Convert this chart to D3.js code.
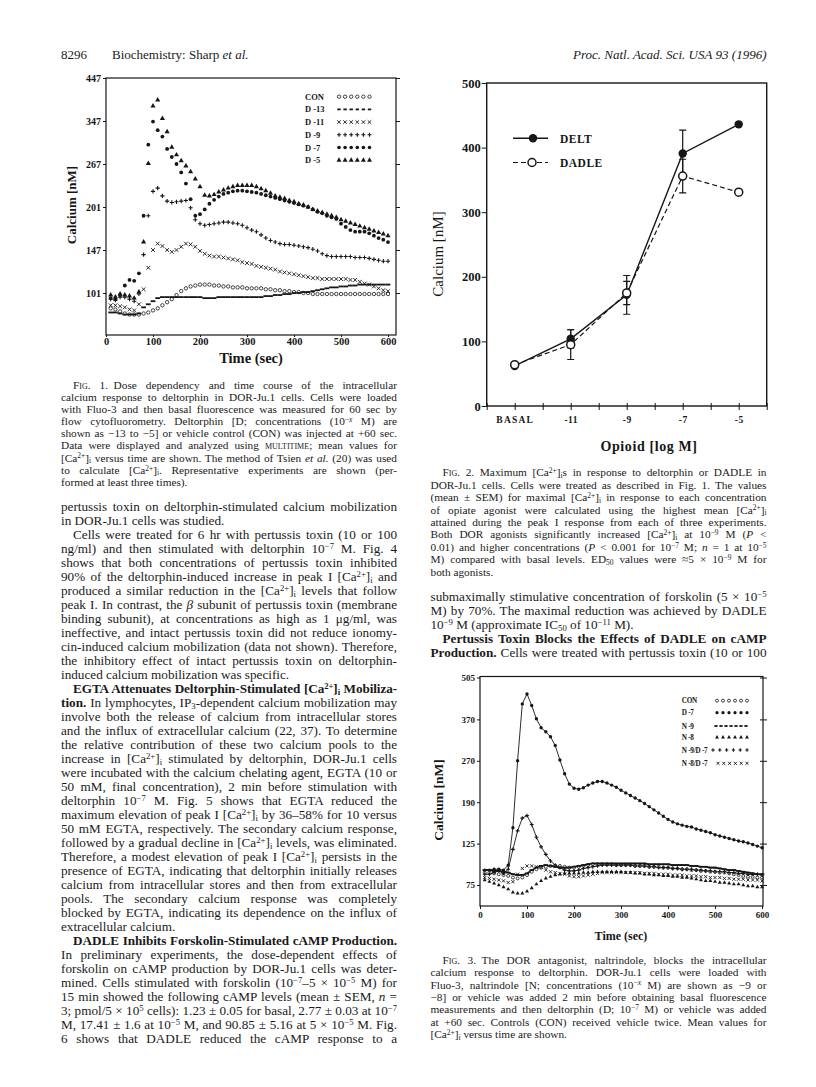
<!DOCTYPE html>
<meta charset="utf-8">
<style>
body { margin: 0; background: #fff; }
#page { position: relative; width: 816px; height: 1087px; overflow: hidden; background: #fff;
        font-family: "Liberation Serif", "Times New Roman", serif; color: #1a1a1a; }
svg { position: absolute; left: 0; top: 0; }
.ln { position: absolute; white-space: nowrap; text-align: justify; text-align-last: justify; }
.ln.last { text-align-last: left; }
.ln.right { text-align-last: right; }
sup, sub { font-size: 66%; line-height: 0; vertical-align: baseline; position: relative; }
sup { top: -0.42em; }
sub { top: 0.22em; }
.sc { font-variant: small-caps; }
</style>
<div id="page"><svg width="816" height="1087"></svg></div>
<script src="https://d3js.org/d3.v7.min.js"></script>
<script>

var SERIF = "Liberation Serif, Times New Roman, serif",
    INK = "#161616";

// ---------------- data: Fig. 1 (deltorphin dose, calcium nM vs time)
var time1 = [10,20,30,40,50,60,70,80,90,100,110,120,130,140,150,160,170,180,190,200,
             210,220,230,240,250,260,270,280,290,300,310,320,330,340,350,360,370,380,390,400,
             410,420,430,440,450,460,470,480,490,500,510,520,530,540,550,560,570,580,590,600];
var con1 = [86,85,83,81,80,80,80,81,82,84, 86,89,92,95,99,103,106,108,109,110,
            110,110,109,109,108,108,107,107,107,106, 106,106,106,105,105,104,104,103,103,102,
            102,101,101,100,100,100,100,100,100,100, 100,100,100,100,100,100,100,100,100,100];
var d13 = [82,82,81,80,80,80,81,87,90,93, 96,97,97,97,97,97,97,97,97,97,
           96,96,96,97,97,97,97,97,97,97, 97,97,97,98,98,99,99,100,100,101,
           101,102,102,103,104,105,106,107,107,108, 108,109,109,110,110,110,110,110,110,110];
var d11 = [89,89,88,87,85,84,90,105,128,147, 155,152,147,145,147,151,155,154,151,146,
           143,141,140,140,139,138,137,136,134,133, 132,130,129,128,127,126,124,123,122,121,
           120,119,118,117,117,116,116,116,116,116, 116,115,115,113,111,110,108,106,104,103];
var d9 = [95,94,97,97,95,93,100,142,190,225, 230,218,210,208,209,210,211,200,185,180,
          178,179,180,181,182,182,181,180,178,175, 172,170,166,162,159,157,155,154,154,153,
          152,151,150,148,146,143,141,140,140,140, 140,140,139,139,139,138,137,136,135,135];
var d7 = [96,95,99,109,115,114,122,190,303,346, 330,318,295,280,267,254,237,213,190,192,
          198,206,212,217,221,223,225,226,226,225, 224,223,221,219,217,215,213,211,209,207,
          205,203,201,198,195,193,190,188,186,180, 176,172,170,170,170,168,165,162,160,157];
var d5 = [99,97,100,99,98,96,102,157,268,382, 396,353,327,298,284,273,264,255,244,232,
          219,218,220,224,227,230,232,234,234,234, 234,232,229,226,222,218,216,214,211,209,
          206,204,201,198,196,194,192,190,188,185, 183,181,179,177,175,173,171,169,167,165];
var fig1Ticks = [101,147,201,267,347,447];
var fig1TimeTicks = [0,100,200,300,400,500,600];
var fig1Names = ["CON","D -13","D -11","D -9","D -7","D -5"];

// ---------------- data: Fig. 2 (maximum calcium vs dose)
var doses = ["BASAL","-11","-9","-7","-5"];
var delt = [62,104,172,391,436];
var deltErr = [0,14,30,36,0];
var dadle = [64,95,175,356,331];
var dadleErr = [0,23,18,26,0];
var fig2Ticks = [0,100,200,300,400,500];

// ---------------- data: Fig. 3 (naltrindole block)
var time3 = time1;
var con3 = [90,90,89,88,87,86,84,83,84,87, 91,94,96,97,98,98,98,97,96,96,
            97,98,99,100,100,100,100,100,99,99, 99,99,98,98,98,97,97,97,96,96,
            95,95,94,94,93,93,92,92,91,91, 90,90,89,88,87,86,85,85,84,84];
var d7n = [93,93,94,94,93,99,150,270,420,452, 415,372,350,340,328,307,272,245,225,217,
           215,218,223,227,230,230,227,223,219,213, 208,203,198,193,188,183,178,173,168,163,
           159,156,154,152,151,148,146,144,142,139, 137,135,133,131,129,128,126,124,122,120];
var n9 = [93,93,92,92,91,90,88,87,87,89, 93,96,98,99,98,97,96,96,96,97,
          98,99,100,101,101,101,101,101,101,101, 101,101,101,101,101,100,100,100,100,100,
          99,99,99,99,98,98,97,97,96,96, 95,94,93,93,92,91,90,89,88,88];
var n8 = [81,79,77,75,73,71,68,67,67,69, 72,76,80,83,85,87,88,89,89,89,
          89,90,90,91,91,91,91,91,91,91, 90,90,89,89,88,88,87,87,86,86,
          85,85,84,84,83,82,81,80,80,79, 78,78,77,76,76,75,74,74,73,73];
var n9d7 = [88,88,90,92,89,94,118,145,165,169, 155,135,121,112,104,99,96,93,92,92,
            93,95,96,97,98,99,99,99,99,99, 99,99,98,98,98,97,97,96,96,96,
            95,95,94,94,94,93,93,92,92,91, 91,91,90,90,89,89,88,88,88,87];
var n8d7 = [84,83,82,81,80,78,79,88,95,98, 98,97,96,93,91,90,89,88,86,85,
            85,86,87,88,89,90,90,90,90,90, 90,90,90,90,89,89,89,88,88,88,
            87,87,87,86,86,86,85,85,84,84, 84,83,83,82,82,82,81,81,81,80];
var fig3Ticks = [75,125,190,270,370,505];
var fig3Names = ["CON","D -7","N -9","N -8","N -9/D -7","N -8/D -7"];

var svg = d3.select("svg");

// marker drawing shared by all three figures
function drawMarks(g, xs, ys, pts, type, s) {
  var sel = g.selectAll(null).data(pts).enter().append("path")
      .attr("transform", function(d) { return "translate(" + xs(d[0]) + "," + ys(d[1]) + ")"; });
  if (type == "o")
    sel.attr("d", d3.symbol(d3.symbolCircle, Math.PI * s * s)).attr("fill", "#fff").attr("stroke", INK).attr("stroke-width", 0.8);
  else if (type == "dot")
    sel.attr("d", d3.symbol(d3.symbolCircle, Math.PI * s * s)).attr("fill", INK);
  else if (type == "tri")
    sel.attr("d", d3.symbol(d3.symbolTriangle, s * s * 1.7)).attr("fill", INK);
  else if (type == "+")
    sel.attr("d", "M" + (-s) + ",0H" + s + "M0," + (-s) + "V" + s).attr("stroke", INK).attr("stroke-width", 1.1);
  else if (type == "x")
    sel.attr("d", "M" + (-s) + "," + (-s) + "L" + s + "," + s + "M" + (-s) + "," + s + "L" + s + "," + (-s)).attr("stroke", INK).attr("stroke-width", 0.9);
  else if (type == "-")
    sel.attr("d", "M" + (-s) + ",0H" + s).attr("stroke", INK).attr("stroke-width", 1.8);
}
var px = function(v) { return v; };

function styleAxis(g, fs) {
  g.select(".domain").remove();
  g.attr("font-family", SERIF).attr("font-size", fs).attr("font-weight", "bold");
  g.selectAll("line").attr("stroke", INK);
  g.selectAll("text").attr("fill", INK);
}

function box(x0, y0, x1, y1, w) {
  svg.append("rect").attr("x", x0).attr("y", y0).attr("width", x1 - x0).attr("height", y1 - y0)
     .attr("fill", "none").attr("stroke", INK).attr("stroke-width", w);
}

function label(x, y, txt, fs, weight, rot) {
  var t = svg.append("text").attr("x", x).attr("y", y).attr("text-anchor", "middle")
     .attr("dominant-baseline", "central")
     .attr("font-family", SERIF).attr("font-size", fs).attr("font-weight", weight).attr("fill", INK).text(txt);
  if (rot) t.attr("transform", "rotate(-90," + x + "," + y + ")");
  return t;
}

// ================= FIG 1
var x1 = d3.scaleLinear().domain([0, 617]).range([106, 396]);
var y1 = d3.scaleLinear().domain([60,101,147,201,267,347,447]).range([335,293,250,207,164,121,78]);

var g1 = svg.append("g");
[[con1,"o",1.7],[d13,"-",2.4],[d11,"x",1.9],[d9,"+",2.1],[d7,"dot",1.9],[d5,"tri",2.6]].forEach(function(s) {
  drawMarks(g1, x1, y1, d3.zip(time1, s[0]), s[1], s[2]);
});
box(x1(0), y1(447), x1(617), y1(60), 1.2);
svg.append("g").attr("transform", "translate(" + x1(0) + ",0)")
   .call(d3.axisLeft(y1).tickValues(fig1Ticks).tickSize(3).tickPadding(2))
   .call(styleAxis, 10);
svg.append("g").attr("transform", "translate(" + x1(617) + ",0)")
   .call(d3.axisRight(y1).tickValues(fig1Ticks).tickSize(4).tickFormat(""))
   .call(styleAxis, 10);
svg.append("g").attr("transform", "translate(0," + y1(60) + ")")
   .call(d3.axisBottom(x1).tickValues(fig1TimeTicks).tickSize(2).tickPadding(1))
   .call(styleAxis, 10.5);
label(251, 358, "Time (sec)", 14.5, "bold");
label(71, 205, "Calcium [nM]", 13, "bold", true);

var leg1 = svg.append("g");
var leg1Types = [["o",1.7],["-",1.7],["x",1.8],["+",2],["dot",1.8],["tri",2.5]];
fig1Names.forEach(function(n, i) {
  var yy = 96.7 + i * 12.7;
  leg1.append("text").attr("x", 305).attr("y", yy + 3).attr("font-family", SERIF)
      .attr("font-size", 8.5).attr("font-weight", "bold").attr("fill", INK).text(n);
  var pts = [0,1,2,3,4,5].map(function(k) { return [339 + k * 6.1, yy]; });
  drawMarks(leg1, px, px, pts, leg1Types[i][0], leg1Types[i][1]);
});

// ================= FIG 2
var x2 = d3.scaleLinear().domain([-0.5, 4.5]).range([486.7, 766.7]);
var y2 = d3.scaleLinear().domain([0, 500]).range([406, 83]);
var idx = doses.map(function(d, i) { return i; });

box(x2(-0.5), y2(500), x2(4.5), y2(0), 1.4);
svg.append("g").attr("transform", "translate(" + x2(-0.5) + ",0)")
   .call(d3.axisLeft(y2).tickValues(fig2Ticks).tickSize(5).tickPadding(1))
   .call(styleAxis, 12.5);
var g2x = svg.append("g").attr("transform", "translate(0," + y2(0) + ")")
   .call(d3.axisBottom(x2).tickValues(d3.range(-0.5, 4.51, 0.5)).tickSize(4).tickPadding(6)
         .tickFormat(function(v) { return Number.isInteger(v) ? doses[v] : ""; }))
   .call(styleAxis, 9.5);
g2x.selectAll("line").attr("y1", -3);
g2x.selectAll("text").attr("letter-spacing", function(v) { return v == 0 ? 1.2 : 0.4; });
label(649, 446, "Opioid [log M]", 14, "bold").attr("letter-spacing", 0.6);
label(438, 254, "Calcium [nM]", 15, "normal", true);

var line2 = d3.line().x(function(d) { return x2(d[0]); }).y(function(d) { return y2(d[1]); });
function errBars(vals, errs) {
  idx.forEach(function(i) {
    if (!errs[i]) return;
    var cx = x2(i), lo = y2(vals[i] - errs[i]), hi = y2(vals[i] + errs[i]);
    svg.append("path").attr("d", "M" + cx + "," + lo + "V" + hi + "M" + (cx - 3.5) + "," + lo + "H" + (cx + 3.5) + "M" + (cx - 3.5) + "," + hi + "H" + (cx + 3.5))
       .attr("stroke", INK).attr("stroke-width", 1.2).attr("fill", "none");
  });
}
errBars(delt, deltErr);
errBars(dadle, dadleErr);
svg.append("path").datum(d3.zip(idx, dadle)).attr("d", line2).attr("fill", "none")
   .attr("stroke", INK).attr("stroke-width", 1.2).attr("stroke-dasharray", "5,3");
svg.append("path").datum(d3.zip(idx, delt)).attr("d", line2).attr("fill", "none")
   .attr("stroke", INK).attr("stroke-width", 1.4);
svg.selectAll(null).data(d3.zip(idx, delt)).enter().append("circle")
   .attr("cx", function(d) { return x2(d[0]); }).attr("cy", function(d) { return y2(d[1]); })
   .attr("r", 4.2).attr("fill", INK);
svg.selectAll(null).data(d3.zip(idx, dadle)).enter().append("circle")
   .attr("cx", function(d) { return x2(d[0]); }).attr("cy", function(d) { return y2(d[1]); })
   .attr("r", 4).attr("fill", "#fff").attr("stroke", INK).attr("stroke-width", 1.5);

// legend fig 2
svg.append("path").attr("d", "M513,138.3H548").attr("stroke", INK).attr("stroke-width", 1.4);
svg.append("circle").attr("cx", 533).attr("cy", 138.3).attr("r", 4.2).attr("fill", INK);
svg.append("path").attr("d", "M513,162.5H548").attr("stroke", INK).attr("stroke-width", 1.2).attr("stroke-dasharray", "5,3");
svg.append("circle").attr("cx", 532).attr("cy", 162.5).attr("r", 4).attr("fill", "#fff").attr("stroke", INK).attr("stroke-width", 1.5);
svg.append("text").attr("x", 560).attr("y", 142.5).attr("font-family", SERIF).attr("font-size", 11.5)
   .attr("font-weight", "bold").attr("letter-spacing", 0.5).attr("fill", INK).text("DELT");
svg.append("text").attr("x", 560).attr("y", 166.5).attr("font-family", SERIF).attr("font-size", 11.5)
   .attr("font-weight", "bold").attr("letter-spacing", 0.5).attr("fill", INK).text("DADLE");

// ================= FIG 3
var x3 = d3.scaleLinear().domain([0, 602]).range([480, 763]);
var y3 = d3.scaleLinear().domain([55,75,125,190,270,370,505]).range([906,885,843.6,802.2,760.8,719.4,677.5]);
var g3 = svg.append("g");
var line3 = d3.line().x(function(d) { return x3(d[0]); }).y(function(d) { return y3(d[1]); });
[d7n, n9d7, n9].forEach(function(v, i) {
  g3.append("path").datum(d3.zip(time3, v)).attr("d", line3).attr("fill", "none")
    .attr("stroke", INK).attr("stroke-width", i == 2 ? 1.6 : 0.9);
});
[[con3,"o",1.5],[n8,"tri",2],[n8d7,"x",1.6],[n9,"-",2.2],[n9d7,"+",1.9],[d7n,"dot",1.7]].forEach(function(s) {
  drawMarks(g3, x3, y3, d3.zip(time3, s[0]), s[1], s[2]);
});
box(x3(0), 676.5, x3(602), y3(55), 1.2);
svg.append("g").attr("transform", "translate(" + x3(0) + ",0)")
   .call(d3.axisLeft(y3).tickValues(fig3Ticks).tickSize(3).tickPadding(2))
   .call(styleAxis, 9);
var g3r = svg.append("g").attr("transform", "translate(" + x3(602) + ",0)")
   .call(d3.axisRight(y3).tickValues(fig3Ticks).tickSize(4).tickFormat(""))
   .call(styleAxis, 9);
g3r.selectAll("line").attr("x1", -3);
svg.append("g").attr("transform", "translate(0," + y3(55) + ")")
   .call(d3.axisBottom(x3).tickValues(fig1TimeTicks).tickSize(3).tickPadding(3))
   .call(styleAxis, 9);
label(621, 936, "Time (sec)", 12, "bold");
label(438, 800, "Calcium [nM]", 13.5, "bold", true);

var leg3 = svg.append("g");
var leg3Types = [["o",1.5,717,6,6],["dot",1.6,717,6,6],["-",1.6,716,7,5],["tri",2,717,6,6],["+",1.7,713,6,6.8],["x",1.5,718,6,5.8]];
var leg3Y = [700.7,712.7,726,737.3,750,763.3];
fig3Names.forEach(function(n, i) {
  leg3.append("text").attr("x", 681.7).attr("y", leg3Y[i] + 2.7).attr("font-family", SERIF)
      .attr("font-size", 7.2).attr("font-weight", "bold").attr("letter-spacing", -0.25).attr("fill", INK).text(n);
  var t = leg3Types[i];
  var pts = d3.range(t[3]).map(function(k) { return [t[2] + k * t[4], leg3Y[i]]; });
  drawMarks(leg3, px, px, pts, t[0], t[1]);
});

// ================= TEXT
var CA = "[Ca<sup>2+</sup>]<sub>i</sub>";

var header = [
  {x: 61, w: 60, t: "8296|"},
  {x: 112, w: 200, t: "Biochemistry: Sharp <i>et al.</i>|"},
  {x: 530, w: 236.5, t: "<i>Proc. Natl. Acad. Sci. USA</i> <i>93</i> <i>(1996)</i>", right: true}
];

var cap1 = [
  "><span class='sc'>Fig. 1.</span>&ensp;Dose dependency and time course of the intracellular",
  "calcium response to deltorphin in DOR-Ju.1 cells. Cells were loaded",
  "with Fluo-3 and then basal fluorescence was measured for 60 sec by",
  "flow cytofluorometry. Deltorphin [D; concentrations (10<sup>−<i>x</i></sup> M) are",
  "shown as −13 to −5] or vehicle control (CON) was injected at +60 sec.",
  "Data were displayed and analyzed using <span class='sc'>multitime</span>; mean values for",
  CA + " versus time are shown. The method of Tsien <i>et al.</i> (20) was used",
  "to calculate " + CA + ". Representative experiments are shown (per-",
  "formed at least three times).|"
];

var body1 = [
  "pertussis toxin on deltorphin-stimulated calcium mobilization",
  "in DOR-Ju.1 cells was studied.|",
  ">Cells were treated for 6 hr with pertussis toxin (10 or 100",
  "ng/ml) and then stimulated with deltorphin 10<sup>−7</sup> M. Fig. 4",
  "shows that both concentrations of pertussis toxin inhibited",
  "90% of the deltorphin-induced increase in peak I " + CA + " and",
  "produced a similar reduction in the " + CA + " levels that follow",
  "peak I. In contrast, the <i>β</i> subunit of pertussis toxin (membrane",
  "binding subunit), at concentrations as high as 1 μg/ml, was",
  "ineffective, and intact pertussis toxin did not reduce ionomy-",
  "cin-induced calcium mobilization (data not shown). Therefore,",
  "the inhibitory effect of intact pertussis toxin on deltorphin-",
  "induced calcium mobilization was specific.|",
  "><b>EGTA Attenuates Deltorphin-Stimulated " + CA + " Mobiliza-</b>",
  "<b>tion.</b> In lymphocytes, IP<sub>3</sub>-dependent calcium mobilization may",
  "involve both the release of calcium from intracellular stores",
  "and the influx of extracellular calcium (22, 37). To determine",
  "the relative contribution of these two calcium pools to the",
  "increase in " + CA + " stimulated by deltorphin, DOR-Ju.1 cells",
  "were incubated with the calcium chelating agent, EGTA (10 or",
  "50 mM, final concentration), 2 min before stimulation with",
  "deltorphin 10<sup>−7</sup> M. Fig. 5 shows that EGTA reduced the",
  "maximum elevation of peak I " + CA + " by 36–58% for 10 versus",
  "50 mM EGTA, respectively. The secondary calcium response,",
  "followed by a gradual decline in " + CA + " levels, was eliminated.",
  "Therefore, a modest elevation of peak I " + CA + " persists in the",
  "presence of EGTA, indicating that deltorphin initially releases",
  "calcium from intracellular stores and then from extracellular",
  "pools. The secondary calcium response was completely",
  "blocked by EGTA, indicating its dependence on the influx of",
  "extracellular calcium.|",
  "><b>DADLE Inhibits Forskolin-Stimulated cAMP Production.</b>",
  "In preliminary experiments, the dose-dependent effects of",
  "forskolin on cAMP production by DOR-Ju.1 cells was deter-",
  "mined. Cells stimulated with forskolin (10<sup>−7</sup>–5 × 10<sup>−5</sup> M) for",
  "15 min showed the following cAMP levels (mean ± SEM, <i>n</i> =",
  "3; pmol/5 × 10<sup>5</sup> cells): 1.23 ± 0.05 for basal, 2.77 ± 0.03 at 10<sup>−7</sup>",
  "M, 17.41 ± 1.6 at 10<sup>−5</sup> M, and 90.85 ± 5.16 at 5 × 10<sup>−5</sup> M. Fig.",
  "6 shows that DADLE reduced the cAMP response to a"
];

var cap2 = [
  "><span class='sc'>Fig. 2.</span>&ensp;Maximum [Ca<sup>2+</sup>]<sub>i</sub>s in response to deltorphin or DADLE in",
  "DOR-Ju.1 cells. Cells were treated as described in Fig. 1. The values",
  "(mean ± SEM) for maximal " + CA + " in response to each concentration",
  "of opiate agonist were calculated using the highest mean " + CA,
  "attained during the peak I response from each of three experiments.",
  "Both DOR agonists significantly increased " + CA + " at 10<sup>−9</sup> M (<i>P</i> &lt;",
  "0.01) and higher concentrations (<i>P</i> &lt; 0.001 for 10<sup>−7</sup> M; <i>n</i> = 1 at 10<sup>−5</sup>",
  "M) compared with basal levels. ED<sub>50</sub> values were ≈5 × 10<sup>−9</sup> M for",
  "both agonists.|"
];

var body2 = [
  "submaximally stimulative concentration of forskolin (5 × 10<sup>−5</sup>",
  "M) by 70%. The maximal reduction was achieved by DADLE",
  "10<sup>−9</sup> M (approximate IC<sub>50</sub> of 10<sup>−11</sup> M).|",
  "><b>Pertussis Toxin Blocks the Effects of DADLE on cAMP</b>",
  "<b>Production.</b> Cells were treated with pertussis toxin (10 or 100"
];

var cap3 = [
  "><span class='sc'>Fig. 3.</span>&ensp;The DOR antagonist, naltrindole, blocks the intracellular",
  "calcium response to deltorphin. DOR-Ju.1 cells were loaded with",
  "Fluo-3, naltrindole [N; concentrations (10<sup>−<i>x</i></sup> M) are shown as −9 or",
  "−8] or vehicle was added 2 min before obtaining basal fluorescence",
  "measurements and then deltorphin (D; 10<sup>−7</sup> M) or vehicle was added",
  "at +60 sec. Controls (CON) received vehicle twice. Mean values for",
  CA + " versus time are shown.|"
];

var page = d3.select("#page");

function block(lines, x, y0, w, lh, fs, indent) {
  page.selectAll(null).data(lines).enter().append("div")
    .attr("class", function(d) { return "ln" + (d.slice(-1) == "|" ? " last" : ""); })
    .style("left", function(d) { return (x + (d[0] == ">" ? indent : 0)) + "px"; })
    .style("width", function(d) { return (w - (d[0] == ">" ? indent : 0)) + "px"; })
    .style("top", function(d, i) { return (y0 + i * lh - lh / 2) + "px"; })
    .style("font-size", fs + "px")
    .style("line-height", lh + "px")
    .html(function(d) { return d.replace(/^>/, "").replace(/\|$/, ""); })
    .each(function() {
      // squeeze lines that would overflow the column
      var over = this.scrollWidth - this.clientWidth;
      if (over > 0) {
        var n = this.textContent.length;
        d3.select(this).style("letter-spacing", (-over / n - 0.03) + "px");
      }
    });
}

header.forEach(function(h) {
  page.append("div").attr("class", "ln " + (h.right ? "right" : "last"))
    .style("left", h.x + "px").style("width", h.w + "px").style("top", "48px")
    .style("font-size", "13px").style("line-height", "14px")
    .html(h.t.replace(/\|$/, ""));
});

block(cap1, 61, 385, 336, 12.1, 11.3, 12);
block(body1, 61, 507, 336, 14, 13.2, 12);
block(cap2, 430.5, 472.6, 336, 12.4, 11.3, 12);
block(body2, 430.5, 596.7, 336, 14, 13.2, 12);
block(cap3, 430.5, 960, 336, 12.4, 11.3, 12);

</script>
